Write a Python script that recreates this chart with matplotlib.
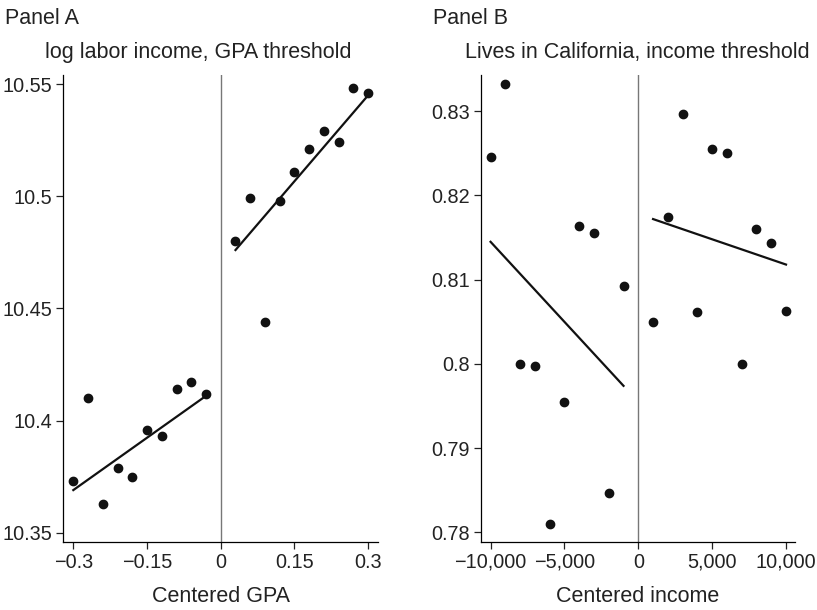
import numpy as np
import matplotlib.pyplot as plt

plt.rcParams['font.family'] = ['Liberation Sans', 'DejaVu Sans']
plt.rcParams['font.size'] = 15.5
plt.rcParams['xtick.labelsize'] = 14.3
plt.rcParams['ytick.labelsize'] = 14.3

# Panel A: log labor income, GPA threshold
gpa_left = [-0.30, -0.27, -0.24, -0.21, -0.18, -0.15, -0.12, -0.09, -0.06, -0.03]
inc_left = [10.373, 10.410, 10.363, 10.379, 10.375, 10.396, 10.393, 10.414, 10.417, 10.412]
gpa_right = [0.03, 0.06, 0.09, 0.12, 0.15, 0.18, 0.21, 0.24, 0.27, 0.30]
inc_right = [10.480, 10.499, 10.444, 10.498, 10.511, 10.521, 10.529, 10.524, 10.548, 10.546]
fitA_left_x = [-0.30, -0.03]
fitA_left_y = [10.369, 10.411]
fitA_right_x = [0.03, 0.30]
fitA_right_y = [10.476, 10.545]
gpa_ticks = [-0.3, -0.15, 0, 0.15, 0.3]
gpa_ticklabels = ['\u22120.3', '\u22120.15', '0', '0.15', '0.3']
A_yticks = [10.35, 10.4, 10.45, 10.5, 10.55]
A_yticklabels = ['10.35', '10.4', '10.45', '10.5', '10.55']

# Panel B: lives in California, income threshold
cinc_left = [-10000, -9000, -8000, -7000, -6000, -5000, -4000, -3000, -2000, -1000]
cal_left = [0.8246, 0.8332, 0.8000, 0.7997, 0.7810, 0.7955, 0.8164, 0.8155, 0.7847, 0.8092]
cinc_right = [1000, 2000, 3000, 4000, 5000, 6000, 7000, 8000, 9000, 10000]
cal_right = [0.8050, 0.8174, 0.8297, 0.8062, 0.8255, 0.8251, 0.8000, 0.8160, 0.8143, 0.8063]
fitB_left_x = [-10000, -1000]
fitB_left_y = [0.8145, 0.7974]
fitB_right_x = [1000, 10000]
fitB_right_y = [0.8172, 0.8118]
inc_ticks = [-10000, -5000, 0, 5000, 10000]
inc_ticklabels = ['\u221210,000', '\u22125,000', '0', '5,000', '10,000']
B_yticks = [0.78, 0.79, 0.8, 0.81, 0.82, 0.83]
B_yticklabels = ['0.78', '0.79', '0.8', '0.81', '0.82', '0.83']

fig = plt.figure(figsize=(8.17, 6.10), dpi=100)
axA = fig.add_axes([0.0771, 0.112, 0.3856, 0.765])
axB = fig.add_axes([0.5887, 0.112, 0.3844, 0.765])


def style(ax):
    ax.spines['top'].set_visible(False)
    ax.spines['right'].set_visible(False)
    ax.spines['left'].set_linewidth(0.9)
    ax.spines['bottom'].set_linewidth(0.9)
    ax.tick_params(direction='out', length=5, width=0.9, pad=3, colors='#222222')
    ax.axvline(0, color='#777777', lw=1.0, zorder=1)


# Panel A
axA.plot(gpa_left, inc_left, 'o', color='#111111', ms=6)
axA.plot(gpa_right, inc_right, 'o', color='#111111', ms=6)
axA.plot(fitA_left_x, fitA_left_y, color='#111111', lw=1.6)
axA.plot(fitA_right_x, fitA_right_y, color='#111111', lw=1.6)
axA.set_xlim(-0.321, 0.32)
axA.set_ylim(10.346, 10.554)
axA.set_xticks(gpa_ticks)
axA.set_xticklabels(gpa_ticklabels)
axA.set_yticks(A_yticks)
axA.set_yticklabels(A_yticklabels)
axA.set_xlabel('Centered GPA', labelpad=10, color='#222222')
style(axA)

# Panel B
axB.plot(cinc_left, cal_left, 'o', color='#111111', ms=6)
axB.plot(cinc_right, cal_right, 'o', color='#111111', ms=6)
axB.plot(fitB_left_x, fitB_left_y, color='#111111', lw=1.6)
axB.plot(fitB_right_x, fitB_right_y, color='#111111', lw=1.6)
axB.set_xlim(-10650, 10610)
axB.set_ylim(0.7789, 0.8343)
axB.set_xticks(inc_ticks)
axB.set_xticklabels(inc_ticklabels)
axB.set_yticks(B_yticks)
axB.set_yticklabels(B_yticklabels)
axB.set_xlabel('Centered income', labelpad=10, color='#222222')
style(axB)

fig.text(5 / 817, 1 - 24 / 610, 'Panel A', color='#222222')
fig.text(45 / 817, 1 - 58 / 610, 'log labor income, GPA threshold', color='#222222')
fig.text(433 / 817, 1 - 24 / 610, 'Panel B', color='#222222')
fig.text(465 / 817, 1 - 58 / 610, 'Lives in California, income threshold', color='#222222')

fig.savefig('out.png', dpi=100)
